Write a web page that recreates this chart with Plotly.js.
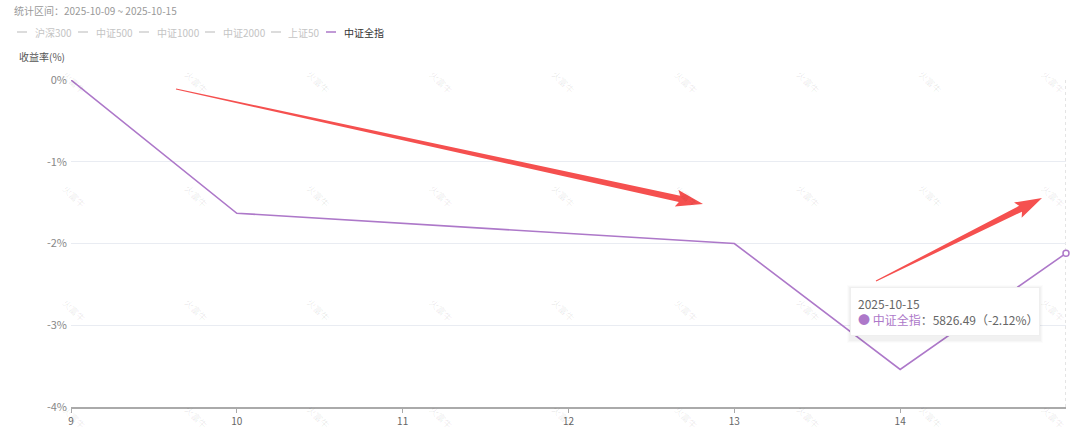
<!DOCTYPE html>
<html>
<head>
<meta charset="utf-8">
<script src="https://cdn.plot.ly/plotly-3.0.1.min.js"></script>
<style>html,body{margin:0;padding:0;background:#fff;}#chart{width:1080px;height:435px;}</style>
</head>
<body>
<div id="chart"></div>
<script>
// ---- data ----
const days = [9, 10, 13, 14, 15];
const returnsPct = [0, -1.63, -2.00, -3.54, -2.12];
const seriesName = '中证全指';
const legendNames = ['沪深300', '中证500', '中证1000', '中证2000', '上证50', '中证全指'];
const xTickVals = [9, 10, 11, 12, 13, 14];
const yTickVals = [0, -1, -2, -3, -4];
const periodText = '统计区间：2025-10-09 ~ 2025-10-15';
const tipDate = '2025-10-15';
const tipValue = '5826.49';
const tipPct = '-2.12%';

// ---- geometry ----
const W = 1080, H = 435;
const M = {l: 71, r: 14, t: 80, b: 28};
const PW = W - M.l - M.r, PH = H - M.t - M.b;
const FONT = '"Noto Sans CJK SC", "Noto Sans", sans-serif';
const PURPLE = '#ad78c9';
const RED = '#f5504f';
const px2p = (x, y) => [(x - M.l) / PW, 1 - (y - M.t) / PH];

function arrowPath(x0, y0, x1, y1, w0, w1, hl, hw) {
  const dx = x1 - x0, dy = y1 - y0, L = Math.hypot(dx, dy);
  const ux = dx / L, uy = dy / L, nx = -uy, ny = ux;
  const kx = x1 - ux * hl, ky = y1 - uy * hl;
  const pts = [
    [x0 + nx * w0 / 2, y0 + ny * w0 / 2],
    [kx + nx * w1 / 2, ky + ny * w1 / 2],
    [kx - ux * 3 + nx * hw / 2, ky - uy * 3 + ny * hw / 2],
    [x1, y1],
    [kx - ux * 3 - nx * hw / 2, ky - uy * 3 - ny * hw / 2],
    [kx - nx * w1 / 2, ky - ny * w1 / 2],
    [x0 - nx * w0 / 2, y0 - ny * w0 / 2]
  ].map(p => px2p(p[0], p[1]));
  return 'M' + pts.map(p => p[0].toFixed(5) + ',' + p[1].toFixed(5)).join(' L') + ' Z';
}

const shapes = [];
const annotations = [];

// hover crosshair
shapes.push({type: 'line', xref: 'x', yref: 'paper', x0: 15, x1: 15, y0: 0, y1: 1.0,
  line: {color: '#c8c8c8', width: 1, dash: 'dot'}, layer: 'below'});

// arrows
shapes.push({type: 'path', xref: 'paper', yref: 'paper', path: arrowPath(176, 89, 703, 204, 1, 6.5, 24, 17),
  fillcolor: RED, line: {width: 0}});
shapes.push({type: 'path', xref: 'paper', yref: 'paper', path: arrowPath(876, 281, 1042, 198, 1, 6.5, 24, 17),
  fillcolor: RED, line: {width: 0}});

// tooltip soft shadow
[[3, 0.012], [2, 0.018], [1, 0.025]].forEach(([d, a]) => {
  const q0 = px2p(850 - d, 287 - d + 1), q1 = px2p(1040 + d, 339 + d + 1);
  shapes.push({type: 'rect', xref: 'paper', yref: 'paper', x0: q0[0], y0: q0[1], x1: q1[0], y1: q1[1],
    fillcolor: 'rgba(0,0,0,' + a + ')', line: {width: 0}});
});

// watermarks
const wmRows = [82, 196, 310, 417];
for (let j = 0; j < wmRows.length; j++) {
  for (let k = 0; k < 9; k++) {
    const p = px2p(74 + 122.4 * k, wmRows[j]);
    annotations.push({xref: 'paper', yref: 'paper', x: p[0], y: p[1], text: '火富牛', showarrow: false,
      textangle: 45, font: {family: FONT, size: 9, color: 'rgba(0,0,0,0.09)'}, xanchor: 'center', yanchor: 'middle'});
  }
}

// title
let p = px2p(12, 10);
annotations.push({xref: 'paper', yref: 'paper', x: p[0], y: p[1], xanchor: 'left', yanchor: 'middle',
  text: periodText, showarrow: false, font: {family: FONT, size: 10, color: '#999'}});

// legend (manual)
const legLineX = [17, 78, 139, 205, 271, 326];
const legTextX = [33, 94, 155, 221, 286, 342];
legendNames.forEach((n, i) => {
  const active = n === seriesName;
  const a = px2p(legLineX[i], 32), b = px2p(legLineX[i] + 10, 32);
  shapes.push({type: 'line', xref: 'paper', yref: 'paper', x0: a[0], y0: a[1], x1: b[0], y1: b[1],
    line: {color: active ? PURPLE : '#d0d0d0', width: 1.5}});
  const t = px2p(legTextX[i], 32);
  annotations.push({xref: 'paper', yref: 'paper', x: t[0], y: t[1], xanchor: 'left', yanchor: 'middle',
    text: n, showarrow: false, font: {family: FONT, size: 10, color: active ? '#333' : '#c4c4c4'}});
});

// y title
p = px2p(17, 56);
annotations.push({xref: 'paper', yref: 'paper', x: p[0], y: p[1], xanchor: 'left', yanchor: 'middle',
  text: '收益率(%)', showarrow: false, font: {family: FONT, size: 10, color: '#555'}});

// tooltip box
p = px2p(850, 287);
annotations.push({xref: 'paper', yref: 'paper', x: p[0], y: p[1], xanchor: 'left', yanchor: 'top',
  align: 'left', showarrow: false, bgcolor: '#ffffff', bordercolor: '#efefef', borderwidth: 1, borderpad: 7,
  width: 174,
  text: tipDate + '<br><span style="color:' + PURPLE + '">● ' + seriesName + '</span>：' + tipValue + '（' + tipPct + '）',
  font: {family: FONT, size: 12, color: '#666'}});

const traces = [
  {x: days, y: returnsPct, type: 'scatter', mode: 'lines', name: seriesName,
   line: {color: PURPLE, width: 1.6}, cliponaxis: false, hoverinfo: 'skip'},
  {x: [days[days.length - 1]], y: [returnsPct[returnsPct.length - 1]], type: 'scatter', mode: 'markers',
   marker: {size: 6, color: '#fff', line: {color: PURPLE, width: 1.5}}, cliponaxis: false, hoverinfo: 'skip'}
];

const layout = {
  width: W, height: H,
  margin: M,
  paper_bgcolor: '#fff', plot_bgcolor: '#fff',
  showlegend: false,
  font: {family: FONT},
  xaxis: {range: [9, 15], tickvals: xTickVals, ticktext: xTickVals.map(String),
    showgrid: false, zeroline: false, showline: true, linecolor: '#aaa', linewidth: 1.5,
    ticks: 'outside', ticklen: 4, tickcolor: '#aaa', tickwidth: 1,
    tickfont: {family: FONT, size: 10, color: '#666'}},
  yaxis: {range: [-4, 0], tickvals: yTickVals, ticktext: yTickVals.map(v => v + '%'),
    showgrid: true, gridcolor: '#e9ecf2', gridwidth: 1, zeroline: false, showline: false,
    ticks: '', ticklabelstandoff: 3,
    tickfont: {family: FONT, size: 11, color: '#888'}},
  shapes: shapes,
  annotations: annotations
};

Plotly.newPlot('chart', traces, layout, {displayModeBar: false, staticPlot: true});
</script>
</body>
</html>
